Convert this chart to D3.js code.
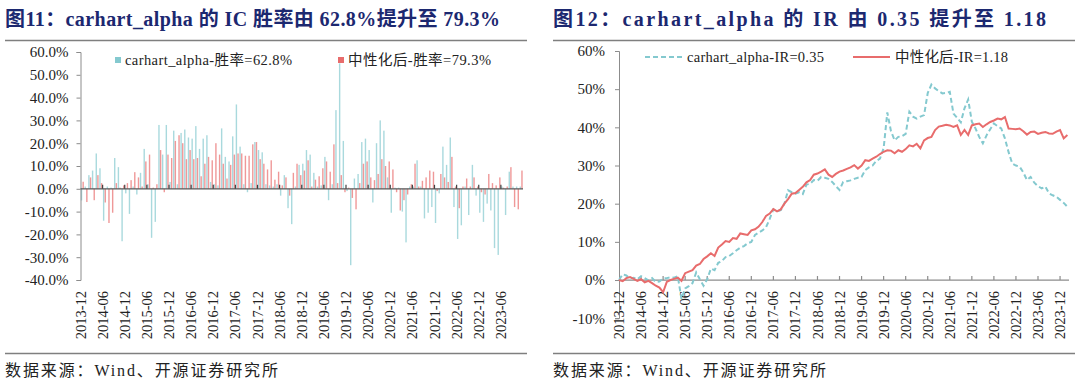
<!DOCTYPE html>
<html>
<head>
<meta charset="utf-8">
<script src="https://cdn.jsdelivr.net/npm/d3@7"></script>
<style>
body { margin: 0; background: #fff; }
svg { display: block; }
text { font-family: "Liberation Serif", "Noto Sans CJK SC", serif; }
</style>
</head>
<body>
<script>
const W = 1080, H = 382;

// monthly categories for the left chart (2013-12 .. 2023-11)
const monthsL = d3.range(120).map(i => {
    const y = 2013 + Math.floor((11 + i) / 12), m = (11 + i) % 12 + 1;
    return y + '-' + String(m).padStart(2, '0');
});
// monthly points for the right chart (2013-12 .. 2024-02)
const monthsR = d3.range(123).map(i => {
    const y = 2013 + Math.floor((11 + i) / 12), m = (11 + i) % 12 + 1;
    return y + '-' + String(m).padStart(2, '0');
});

// monthly IC, %
const icRaw = [-5.1, 1.0, 6.0, 8.0, 15.5, 9.0, -14.0, 1.0, 0.5, 13.5, 9.5, -23.0, -2.0, -11.0, 1.0, -2.5, 7.0, 17.5, 2.0, -21.5,
    -14.5, 28.0, 15.0, 28.0, 3.0, 25.5, 2.0, 24.5, 26.0, 22.5, 22.0, 27.5, 17.5, 22.0, 23.5, 3.0, 2.0, 1.5, 26.5, 14.0,
    12.0, 23.0, 37.0, 18.5, 2.0, -1.5, 2.5, 20.5, 17.0, 16.0, 2.0, 1.5, 1.0, 2.0, -3.0, 6.0, -8.5, -15.5, 1.0, 10.5,
    11.0, 17.0, 15.0, 7.0, 1.0, 1.5, 14.0, -5.0, 2.0, 34.5, 55.0, 21.0, -1.0, -33.5, 4.5, 6.5, 20.5, 22.0, 17.0, -6.0,
    20.0, 30.0, 25.5, 5.0, -10.5, 0.5, 0.5, -10.0, -23.5, 1.0, 1.0, 12.5, 1.0, -13.0, -10.5, -8.0, -15.0, -2.0, 18.5, 10.5,
    22.5, -8.0, -22.0, -16.0, 1.0, -11.5, 10.5, -3.0, -10.5, -14.5, -6.5, -9.5, -26.0, -29.0, 1.0, -11.5, 7.5, 1.0, 1.0, 1.0];
const icNeutral = [3.1, -5.8, 5.0, -5.0, 6.0, 2.5, -6.0, -15.0, -10.5, 2.5, 0.5, 1.5, 2.5, 3.8, 7.3, 5.0, 1.0, 12.0, 15.0, 0.5,
    2.0, 17.0, -1.5, 15.0, 13.5, 21.0, 23.5, 20.0, 13.0, 17.0, 13.0, 13.5, 5.5, 11.0, 14.0, 12.5, 20.0, 15.0, 11.0, 4.5,
    10.5, 15.0, 15.5, 15.5, 14.5, 14.5, 19.5, 20.5, 13.0, 11.0, 8.5, 12.5, 4.0, 7.5, 1.5, 5.0, -3.0, 7.0, 11.0, 6.0,
    8.0, 12.5, 1.0, 4.0, 5.5, 9.0, 12.0, 7.5, 19.5, 2.5, 6.0, -1.5, 0.5, -4.0, -9.0, 2.5, 11.0, 12.0, 5.0, 3.8,
    6.5, 13.0, 10.0, 12.0, 8.5, -1.5, -9.5, -5.0, -2.5, 2.0, 11.0, 1.0, 3.5, 5.0, 8.0, 7.5, -1.0, 6.5, 5.0, 3.0,
    14.0, 1.0, -8.5, 1.0, 4.5, 1.0, 5.0, 1.0, -1.5, -2.5, 6.5, 2.5, 1.5, 5.0, 0.5, 1.0, 9.5, -8.0, -9.0, 8.0];

// cumulative IC, %
const cumRaw = [0, 1.5, 1.2, 0.4, 0.6, 0.2, 1.0, 0.5, -0.1, 0.5, -0.5, -0.4, 0.4, 0.5, 0.7, 0.6, 1.0, -5.0, -2.2, -1.6,
    -0.8, 2.0, 0.2, -1.5, 0.2, 3.0, 2.6, 4.5, 5.0, 6.0, 6.3, 7.0, 7.8, 8.5, 8.9, 9.6, 10.0, 11.8, 12.4, 13.0,
    13.8, 16.0, 18.5, 18.0, 18.3, 20.0, 23.5, 23.0, 22.6, 23.0, 22.5, 25.0, 25.2, 26.2, 26.0, 27.0, 26.8, 26.5, 25.7, 24.6,
    23.6, 25.7, 25.9, 26.1, 26.5, 26.8, 27.0, 28.8, 29.5, 30.0, 31.2, 31.8, 34.5, 43.9, 39.0, 36.6, 37.5, 37.7, 38.3, 44.1,
    42.8, 42.3, 42.8, 43.2, 49.0, 51.2, 50.2, 49.5, 48.9, 49.0, 49.3, 43.6, 42.5, 41.3, 45.0, 47.3, 41.5, 39.7, 37.5, 35.8,
    37.9, 39.5, 41.0, 40.3, 39.7, 37.1, 33.5, 30.5, 30.0, 29.7, 28.2, 26.2, 27.0, 25.5, 24.6, 24.0, 24.5, 22.7, 22.2, 21.8,
    21.0, 20.2, 19.2];
const cumNeutral = [0, -0.3, 0.5, 0.8, 0.3, -0.2, 0.2, -0.6, -0.2, -0.8, -1.5, -2.0, -3.2, -0.5, 0.0, 0.3, 0.6, -0.2, 1.8, 2.2,
    2.6, 3.8, 4.2, 5.5, 6.2, 7.0, 6.3, 8.5, 9.3, 10.2, 10.0, 11.0, 10.8, 12.2, 12.0, 11.8, 13.0, 13.3, 14.0, 15.2,
    16.8, 17.4, 18.6, 18.0, 18.5, 20.0, 21.2, 22.6, 22.8, 23.6, 24.4, 25.6, 26.2, 27.6, 27.9, 28.4, 29.0, 27.6, 27.0, 27.8,
    28.4, 28.7, 29.1, 29.5, 30.1, 29.2, 30.0, 31.4, 31.2, 31.8, 32.3, 33.0, 33.6, 34.0, 33.9, 33.2, 34.0, 33.6, 34.3, 35.3,
    35.0, 35.7, 34.5, 36.6, 37.2, 37.5, 39.3, 40.2, 40.4, 40.7, 40.5, 40.1, 40.5, 38.0, 39.3, 38.0, 40.5, 40.8, 41.0, 40.1,
    40.8, 41.4, 41.8, 42.3, 42.1, 42.7, 39.7, 39.6, 39.5, 39.7, 39.0, 38.1, 38.8, 38.9, 38.3, 38.6, 38.8, 38.4, 38.3, 38.9,
    39.3, 37.1, 38.0];

const yTicksL = [-40, -30, -20, -10, 0, 10, 20, 30, 40, 50, 60];
const yTicksR = [-10, 0, 10, 20, 30, 40, 50, 60];
const legendL = ['carhart_alpha-胜率=62.8%', '中性化后-胜率=79.3%'];
const legendR = ['carhart_alpha-IR=0.35', '中性化后-IR=1.18'];

const teal = '#84c9cf', red = '#e86c6c';
const titleColor = '#1c2870';

const svg = d3.select('body').append('svg').attr('width', W).attr('height', H);

// ---- titles, rules and sources (widths stretched to the reference's wide CJK spacing)
const panels = [
    {x0: 5, x1: 527, title: '图11：carhart_alpha 的 IC 胜率由 62.8%提升至 79.3%', tw: 495},
    {x0: 553, x1: 1075, title: '图12：carhart_alpha 的 IR 由 0.35 提升至 1.18', tw: 493}
];
panels.forEach(p => {
    svg.append('text').attr('x', p.x0).attr('y', 26).text(p.title)
        .attr('textLength', p.tw).attr('lengthAdjust', 'spacing')
        .style('font-size', '20px').style('font-weight', 'bold').style('fill', titleColor);
    svg.append('line').attr('x1', p.x0).attr('x2', p.x1).attr('y1', 40.5).attr('y2', 40.5)
        .style('stroke', '#7f7f7f').style('stroke-width', 1.5);
    svg.append('line').attr('x1', p.x0).attr('x2', p.x1).attr('y1', 353.5).attr('y2', 353.5)
        .style('stroke', '#7f7f7f').style('stroke-width', 1.5);
    svg.append('text').attr('x', p.x0).attr('y', 376).text('数据来源：Wind、开源证券研究所')
        .attr('textLength', 273).attr('lengthAdjust', 'spacing')
        .style('font-size', '16px').style('fill', '#222');
});

// ---- left: bar chart
const xL = d3.scaleBand().domain(monthsL).range([80.5, 523]);
const xInner = d3.scaleBand().domain(['raw', 'neu']).range([0, xL.bandwidth()]).paddingInner(0.15).paddingOuter(0.2);
const yL = d3.scaleLinear().domain([-40, 60]).range([280, 52]);

const gL = svg.append('g');
const barsL = monthsL.map((m, i) => ({m, raw: icRaw[i], neu: icNeutral[i]}));

gL.selectAll('rect.raw').data(barsL).enter().append('rect').classed('raw', true)
    .attr('x', d => xL(d.m) + xInner('raw')).attr('width', xInner.bandwidth())
    .attr('y', d => yL(Math.max(0, d.raw))).attr('height', d => Math.abs(yL(d.raw) - yL(0)))
    .style('fill', teal).style('opacity', 0.7);
gL.selectAll('rect.neu').data(barsL).enter().append('rect').classed('neu', true)
    .attr('x', d => xL(d.m) + xInner('neu')).attr('width', xInner.bandwidth())
    .attr('y', d => yL(Math.max(0, d.neu))).attr('height', d => Math.abs(yL(d.neu) - yL(0)))
    .style('fill', red).style('opacity', 0.7);

const axL = gL.append('g').attr('transform', 'translate(80.5,0)')
    .call(d3.axisLeft(yL).tickValues(yTicksL).tickFormat(d => d.toFixed(1) + '%').tickSize(4).tickPadding(8));
axL.select('.domain').style('stroke', '#8c8c8c');
axL.selectAll('.tick line').style('stroke', '#8c8c8c');
axL.selectAll('text').style('font-size', '15px').style('fill', '#222')
    .style('font-family', '"Liberation Serif", serif');

const labelIdxL = monthsL.filter((m, i) => i % 6 === 0);
gL.append('line').attr('x1', 80.5).attr('x2', 523).attr('y1', yL(0)).attr('y2', yL(0))
    .style('stroke', '#595959').style('stroke-width', 1.2);
gL.selectAll('line.xt').data(labelIdxL.slice(1)).enter().append('line').classed('xt', true)
    .attr('x1', d => xL(d)).attr('x2', d => xL(d)).attr('y1', yL(0)).attr('y2', yL(0) - 4)
    .style('stroke', '#404040').style('stroke-width', 1.2);
gL.selectAll('text.xl').data(labelIdxL).enter().append('text').classed('xl', true)
    .attr('transform', d => `translate(${xL(d)},291) rotate(-90)`).attr('dy', '0.35em')
    .style('text-anchor', 'end').style('font-size', '14.5px').style('fill', '#222').text(d => d);

// left legend
[[legendL[0], teal, 115, 167], [legendL[1], red, 338, 143]].forEach(([t, c, x, tw]) => {
    gL.append('rect').attr('x', x).attr('y', 57).attr('width', 6).attr('height', 6).style('fill', c);
    gL.append('text').attr('x', x + 10).attr('y', 65).text(t)
        .attr('textLength', tw).attr('lengthAdjust', 'spacing')
        .style('font-size', '14.5px').style('fill', '#222');
});

// ---- right: line chart
const xR = d3.scaleLinear().domain([0, 122]).range([619, 1067.4]);
const yR = d3.scaleLinear().domain([-10, 60]).range([318.2, 51]);
const gR = svg.append('g');

const axR = gR.append('g').attr('transform', 'translate(619,0)')
    .call(d3.axisLeft(yR).tickValues(yTicksR).tickFormat(d => d + '%').tickSize(4).tickPadding(10));
axR.select('.domain').style('stroke', '#8c8c8c');
axR.selectAll('.tick line').style('stroke', '#8c8c8c');
axR.selectAll('text').style('font-size', '15px').style('fill', '#222')
    .style('font-family', '"Liberation Serif", serif');

const labelIdxR = d3.range(0, 121, 6);
gR.append('line').attr('x1', 619).attr('x2', 1069).attr('y1', yR(0)).attr('y2', yR(0))
    .style('stroke', '#8c8c8c').style('stroke-width', 1.2);
gR.selectAll('line.xt').data(labelIdxR.slice(1)).enter().append('line').classed('xt', true)
    .attr('x1', d => xR(d)).attr('x2', d => xR(d)).attr('y1', yR(0)).attr('y2', yR(0) - 4)
    .style('stroke', '#8c8c8c').style('stroke-width', 1.2);
gR.selectAll('text.xl').data(labelIdxR).enter().append('text').classed('xl', true)
    .attr('transform', d => `translate(${xR(d)},291) rotate(-90)`).attr('dy', '0.35em')
    .style('text-anchor', 'end').style('font-size', '14.5px').style('fill', '#222').text(d => monthsR[d]);

const line = d3.line().x((d, i) => xR(i)).y(d => yR(d));
gR.append('path').datum(cumRaw).attr('d', line)
    .style('fill', 'none').style('stroke', teal).style('stroke-width', 2).style('stroke-dasharray', '5,3');
gR.append('path').datum(cumNeutral).attr('d', line)
    .style('fill', 'none').style('stroke', red).style('stroke-width', 2);

// right legend
[[legendR[0], teal, 645, '5,3', 137], [legendR[1], red, 853, null, 113]].forEach(([t, c, x, dash, tw]) => {
    gR.append('line').attr('x1', x).attr('x2', x + 37).attr('y1', 57).attr('y2', 57)
        .style('stroke', c).style('stroke-width', 2).style('stroke-dasharray', dash);
    gR.append('text').attr('x', x + 42).attr('y', 62).text(t)
        .attr('textLength', tw).attr('lengthAdjust', 'spacing')
        .style('font-size', '14.5px').style('fill', '#222');
});
</script>
</body>
</html>
